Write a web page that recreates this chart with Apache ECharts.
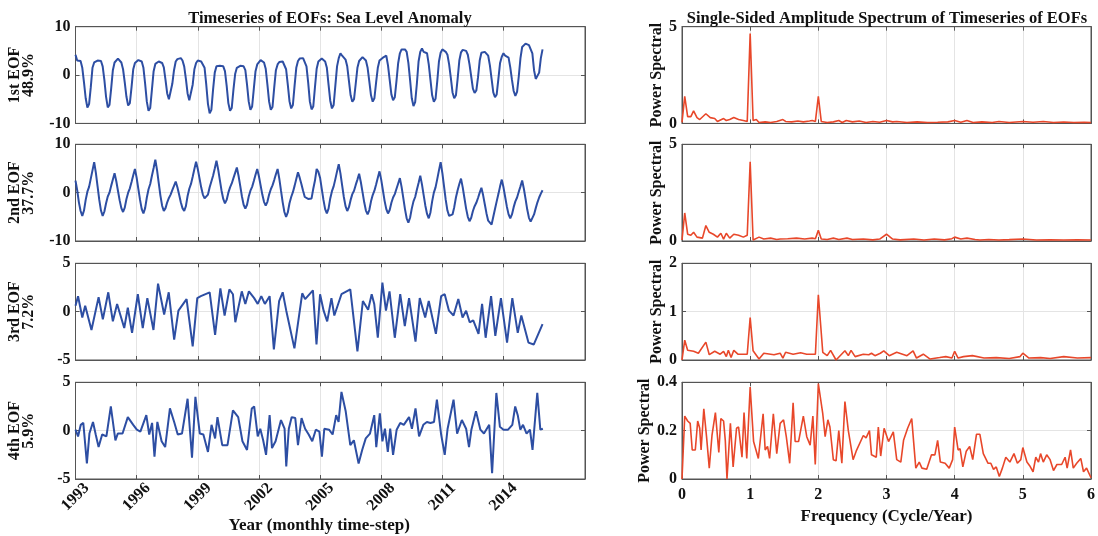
<!DOCTYPE html>
<html><head><meta charset="utf-8">
<script src="https://cdn.jsdelivr.net/npm/echarts@6/dist/echarts.min.js"></script>
<style>html,body{margin:0;padding:0;background:#fff}#c{width:1098px;height:536px}</style>
</head><body><div id="c"></div>
<script>
// ---------- DATA ----------
const tickYears = [1993, 1996, 1999, 2002, 2005, 2008, 2011, 2014];
const eofNames = ['1st EOF\n48.9%', '2nd EOF\n37.7%', '3rd EOF\n7.2%', '4th EOF\n5.9%'];
const leftTitle = 'Timeseries of EOFs: Sea Level Anomaly';
const rightTitle = 'Single-Sided Amplitude Spectrum of Timeseries of EOFs';
const leftXName = 'Year (monthly time-step)';
const rightXName = 'Frequency (Cycle/Year)';
const rightYName = 'Power Spectral';

// EOF1 monthly values, Jan 1993 - Dec 2015
const eof1 = [
 4.2, 3.0, 2.9, 2.9, 1.5, -1.5, -4.8, -6.7, -6.0, -2.5, 1.5, 2.6,
 2.8, 3.0, 3.3, 2.9, 1.8, -1.0, -4.5, -6.7, -6.2, -2.8, 1.0, 2.6,
 3.0, 3.4, 3.2, 2.6, 1.2, -1.5, -4.5, -6.3, -5.8, -2.5, 1.2, 2.5,
 2.9, 3.1, 3.0, 2.8, 1.5, -1.8, -5.5, -7.4, -6.8, -3.0, 0.8, 2.3,
 2.6, 2.8, 2.7, 2.5, 1.6, -1.0, -3.8, -5.0, -4.6, -1.8, 1.0, 2.8,
 3.3, 3.7, 3.5, 3.0, 1.8, -0.8, -3.8, -5.2, -4.9, -2.0, 1.2, 2.5,
 3.0, 3.1, 2.8, 2.5, 1.5, -2.0, -6.0, -7.9, -7.2, -3.0, 0.5, 1.8,
 1.9, 1.9, 1.9, 1.8, 0.8, -2.2, -5.8, -7.4, -6.8, -3.0, 0.2, 1.5,
 1.8, 1.9, 2.0, 1.8, 1.0, -2.0, -5.5, -7.2, -6.5, -2.8, 0.8, 2.2,
 2.6, 3.1, 2.9, 2.6, 1.3, -2.0, -5.5, -7.2, -6.6, -2.6, 1.0, 2.2,
 2.7, 2.9, 2.8, 2.5, 1.2, -2.0, -5.4, -6.9, -6.2, -2.2, 1.5, 2.9,
 3.4, 3.8, 3.5, 3.3, 1.8, -1.5, -5.5, -7.1, -6.5, -2.5, 1.3, 2.8,
 3.2, 3.4, 3.1, 2.8, 1.5, -2.0, -5.3, -6.9, -6.2, -2.2, 1.8, 3.5,
 4.5, 4.0, 3.6, 3.2, 1.8, -1.2, -4.2, -5.5, -5.0, -1.8, 1.5, 2.9,
 3.3, 3.7, 3.5, 3.0, 1.5, -1.3, -4.2, -5.5, -4.8, -1.5, 1.5, 3.0,
 2.8, 3.6, 3.2, 4.0, 2.0, -1.0, -4.0, -5.2, -4.6, -1.2, 2.5, 4.5,
 5.3, 5.2, 5.3, 4.8, 2.5, -1.0, -4.8, -6.4, -5.6, -1.8, 2.8, 4.8,
 5.5, 4.8, 5.2, 4.5, 2.2, -1.0, -4.2, -5.5, -4.9, -1.3, 2.8, 4.6,
 5.3, 5.0, 4.8, 4.2, 2.2, -0.6, -3.6, -4.8, -4.2, -0.8, 3.0, 4.7,
 5.2, 4.9, 5.0, 4.2, 2.2, -0.3, -2.8, -3.7, -3.2, -0.5, 3.0, 4.6,
 5.0, 4.8, 4.6, 4.0, 2.0, -0.8, -3.6, -4.6, -4.0, -0.8, 2.5, 3.8,
 4.5, 4.0, 4.2, 3.6, 1.6, -1.0, -3.3, -4.3, -3.5, -0.3, 3.5, 5.8,
 6.0, 6.5, 6.4, 6.2, 5.8, 4.5, 1.0, -0.8, -1.0, 0.5, 3.5, 5.3
];

// EOF2 monthly values, Jan 1993 - Dec 2015
const eof2 = [
 2.5, 0.5, -2.0, -3.8, -4.8, -3.7, -1.5, 0.2, 1.2, 2.9, 4.6, 6.3,
 4.1, 1.3, -1.5, -3.7, -4.8, -3.9, -2.2, -0.8, 0.0, 1.4, 2.7, 4.0,
 2.4, 0.4, -1.6, -3.2, -4.0, -3.1, -1.3, 0.0, 0.9, 2.2, 3.6, 4.9,
 3.1, 0.8, -1.5, -3.4, -4.3, -3.2, -1.0, 0.7, 1.8, 3.5, 5.1, 6.8,
 4.7, 2.0, -0.6, -2.7, -3.8, -3.2, -2.0, -1.1, -0.4, 0.5, 1.4, 2.3,
 1.1, -0.4, -2.0, -3.2, -3.8, -2.8, -0.7, 0.8, 1.8, 3.3, 4.9, 6.4,
 4.9, 3.0, 1.1, -0.4, -1.2, -1.1, -0.4, 1.1, 2.3, 3.5, 5.0, 6.6,
 4.8, 2.6, 0.4, -1.3, -2.2, -1.5, 0.0, 1.1, 1.9, 3.0, 4.1, 5.2,
 3.5, 1.4, -0.8, -2.5, -3.3, -2.5, -0.8, 0.4, 1.2, 2.4, 3.7, 4.9,
 3.4, 1.5, -0.4, -1.9, -2.7, -1.9, -0.4, 0.7, 1.5, 2.6, 3.8, 4.9,
 2.9, 0.4, -2.0, -4.0, -5.0, -4.1, -2.2, -0.9, 0.1, 1.4, 2.8, 4.2,
 3.1, 1.8, 0.4, -0.9, -1.2, -1.3, -1.1, -1.2, 0.8, 2.5, 4.9, 4.3,
 3.1, 0.8, -1.5, -3.4, -4.3, -3.3, -1.2, 0.3, 1.3, 2.8, 4.4, 5.9,
 4.0, 1.5, -0.9, -2.8, -3.8, -3.0, -1.5, -0.3, 0.4, 1.6, 2.7, 3.9,
 2.2, 0.1, -2.0, -3.7, -4.5, -3.6, -1.8, -0.5, 0.4, 1.7, 3.1, 4.4,
 2.7, 0.5, -1.7, -3.4, -4.3, -3.6, -2.1, -1.0, -0.3, 0.8, 1.9, 3.0,
 1.2, -1.1, -3.4, -5.3, -6.2, -5.2, -3.3, -1.8, -0.9, 0.6, 2.0, 3.5,
 1.7, -0.5, -2.7, -4.4, -5.3, -4.1, -1.8, 0.0, 1.1, 2.8, 4.6, 6.3,
 4.1, 1.3, -1.5, -3.7, -4.8, -4.6, -4.5, -3.0, -1.0, 0.5, 1.8, 2.9,
 1.1, -1.1, -3.3, -5.0, -5.9, -5.2, -3.8, -2.8, -2.1, -1.1, 0.0, 1.0,
 -0.5, -2.4, -4.3, -5.8, -6.2, -6.6, -5.0, -3.4, -1.8, -0.3, 1.3, 2.7,
 1.1, -0.9, -2.9, -4.5, -5.3, -4.5, -3.0, -1.8, -1.0, 0.2, 1.3, 2.5,
 0.8, -1.3, -3.5, -5.2, -6.0, -5.8, -4.5, -3.2, -2.0, -1.0, -0.2, 0.5
];

// EOF3 [month index, value]
const eof3 = [
 [0,0.6],[1.5,1.6],[4,-0.6],[5.7,0.6],[9.4,-1.9],[13.6,1.5],[16.1,-0.8],[19.3,2.0],[22,-1.0],[24.5,0.8],
 [28.7,-1.7],[30.8,0.4],[33.3,-2.2],[36.7,1.8],[39.6,-1.7],[42.3,1.4],[45.9,-1.9],[48.6,2.9],[52.2,-0.3],[54.9,2.0],
 [58.1,-2.9],[60.6,0.1],[65.4,1.3],[69,-3.6],[71.7,1.4],[73.8,1.6],[79,2.0],[82.2,-2.4],[85.3,2.4],[87.8,-0.4],
 [90.6,2.3],[92.7,1.8],[94.1,-1.1],[97.9,2.1],[100,0.8],[102.1,2.1],[105.2,1.4],[107.3,0.8],[109.4,1.6],[111.5,0.8],
 [114.3,1.6],[116.8,-3.9],[119.9,1.1],[122,2.0],[124.1,0.1],[128.9,-3.8],[133.5,1.9],[135.2,1.3],[139.8,2.2],[141.9,-3.4],
 [144,1.8],[146.1,0.1],[148.2,-1.0],[150.7,1.4],[152.4,-0.4],[156.6,1.8],[161.8,2.3],[166,-4.1],[169.2,1.1],[172.3,0.2],
 [174.4,1.8],[175.9,0.8],[178,-2.7],[180.7,3.0],[182.8,0.1],[184.9,2.1],[188,-2.7],[191.2,1.8],[193.9,-1.5],[196.4,1.4],
 [200.2,-3.1],[202.7,1.4],[205.9,-0.6],[208,1.1],[212.2,-2.3],[215.3,1.6],[217.4,1.8],[219.9,0.1],[222.6,-0.4],[225.4,1.3],
 [227.9,-0.6],[230,0.1],[232.1,-1.1],[234.2,-0.9],[237.3,-2.3],[239.4,0.8],[241.5,-2.7],[244.7,1.6],[247.2,-2.5],[250.5,1.4],
 [254.1,-3.2],[257.2,1.4],[260.4,-2.2],[262.5,-0.4],[266.7,-3.2],[269.8,-3.4],[275,-1.3]
];

// EOF4 [month index, value]
const eof4 = [
 [0,0.1],[1.5,-0.6],[3.1,0.6],[4.6,0.8],[6.7,-3.4],[8.2,-0.3],[10.3,0.9],[11.9,-0.4],[13.6,-1.7],[15.7,-0.4],
 [18.2,-0.6],[20.8,2.5],[23.5,-1.0],[24.9,-0.3],[27.7,-0.3],[30.8,1.4],[34,0.6],[36.1,0.1],[38.2,-0.1],[41.7,1.6],
 [43.4,-0.4],[45.1,0.8],[46.5,-2.7],[48.2,0.9],[50.7,-1.1],[52.8,-1.7],[55.6,2.3],[58.1,0.9],[60.2,-0.4],[62.7,-0.3],
 [66,3.3],[68.6,-2.8],[70.6,3.5],[73.2,-0.3],[75.3,-0.4],[78,-2.2],[80.1,0.6],[82.2,-0.8],[83.6,1.4],[86.4,-1.5],
 [89.5,-1.5],[92.7,2.1],[95.8,1.4],[98.3,-1.1],[101,-2.0],[103.8,2.3],[105.2,2.5],[107.3,-0.6],[108.8,0.2],[110.5,-1.0],
 [112.2,-2.5],[114.3,1.6],[115.7,-1.8],[117.8,-1.1],[121,1.1],[123.1,0.2],[124.1,-3.7],[125.6,0.2],[127.3,1.4],[129.4,1.3],
 [131,-1.5],[133.1,1.3],[135.2,0.2],[137.3,-0.4],[139.4,-1.1],[141.5,0.1],[143.6,-0.1],[145.1,-2.7],[146.5,0.2],[149.3,0.1],
 [151.4,-0.4],[153.5,1.6],[154.9,0.9],[156.6,4.0],[159.1,2.0],[161.8,-1.5],[163.9,-1.0],[166.7,-3.4],[168.8,-2.0],[170.9,-0.8],
 [173.4,-0.3],[175.9,1.6],[177.1,-1.7],[179.2,1.8],[180.7,-1.1],[182.2,0.2],[183.9,-2.2],[185.3,0.2],[187,-2.5],[189.1,0.1],
 [191.2,0.8],[193.3,0.6],[196.4,1.4],[198.1,0.2],[200.2,2.3],[202.3,-0.6],[204.8,0.6],[206.9,0.9],[209,0.8],[211.1,0.9],
 [212.8,3.2],[215.3,-0.4],[217.4,-2.5],[219.1,0.2],[222.6,3.2],[224.7,-0.3],[227.5,1.1],[230,0.2],[231.7,-1.7],[233.1,0.1],
 [235.8,2.0],[238.4,0.1],[240.5,-0.3],[243.6,0.6],[245.3,-4.4],[247.8,3.9],[249.9,0.4],[252,0.1],[254.7,0.1],[257.2,0.6],
 [258.9,2.5],[260.4,1.6],[261.9,0.1],[263.5,0.6],[265.6,-0.3],[267.6,0.1],[269.1,-2.0],[271.9,3.9],[273.7,0.1],[275.2,0.2]
];

// Spectra [frequency (cycle/year), amplitude]
const spec1 = [
 [0,0.05],[0.04,1.4],[0.083,0.35],[0.13,0.35],[0.17,0.65],[0.22,0.3],[0.26,0.2],[0.35,0.5],[0.415,0.3],[0.48,0.25],
 [0.52,0.1],[0.61,0.25],[0.65,0.15],[0.7,0.2],[0.76,0.3],[0.83,0.2],[0.9,0.15],[0.957,0.1],[1.0,4.65],[1.043,0.15],
 [1.09,0.2],[1.13,0.05],[1.22,0.08],[1.3,0.05],[1.39,0.1],[1.48,0.2],[1.52,0.1],[1.61,0.08],[1.7,0.12],[1.78,0.08],
 [1.87,0.12],[1.91,0.15],[1.957,0.1],[2.0,1.4],[2.043,0.1],[2.13,0.05],[2.22,0.08],[2.3,0.15],[2.35,0.05],[2.41,0.15],
 [2.5,0.08],[2.6,0.12],[2.7,0.05],[2.8,0.1],[2.9,0.06],[3.0,0.15],[3.09,0.08],[3.15,0.1],[3.3,0.05],[3.45,0.08],
 [3.6,0.05],[3.75,0.06],[3.9,0.08],[4.0,0.15],[4.09,0.06],[4.18,0.15],[4.27,0.05],[4.4,0.08],[4.55,0.05],[4.65,0.1],
 [4.8,0.05],[5.0,0.1],[5.15,0.06],[5.3,0.1],[5.45,0.05],[5.6,0.07],[5.75,0.05],[5.9,0.06],[6.0,0.05]
];
const spec2 = [
 [0,0.05],[0.04,1.45],[0.083,0.35],[0.13,0.3],[0.17,0.45],[0.22,0.2],[0.3,0.15],[0.35,0.8],[0.4,0.45],[0.46,0.35],
 [0.52,0.2],[0.57,0.4],[0.61,0.1],[0.65,0.4],[0.7,0.15],[0.76,0.35],[0.83,0.3],[0.9,0.2],[0.957,0.3],[1.0,4.1],
 [1.043,0.05],[1.13,0.2],[1.2,0.1],[1.3,0.15],[1.39,0.08],[1.44,0.1],[1.55,0.12],[1.68,0.15],[1.8,0.1],[1.91,0.15],
 [1.957,0.12],[2.0,0.55],[2.043,0.1],[2.13,0.08],[2.22,0.15],[2.3,0.08],[2.42,0.15],[2.5,0.08],[2.66,0.1],[2.8,0.06],
 [2.9,0.1],[3.0,0.35],[3.09,0.1],[3.2,0.06],[3.4,0.1],[3.55,0.05],[3.7,0.1],[3.85,0.06],[3.96,0.12],[4.0,0.2],
 [4.09,0.1],[4.18,0.15],[4.3,0.08],[4.37,0.05],[4.5,0.08],[4.65,0.05],[4.8,0.07],[5.0,0.1],[5.2,0.05],[5.4,0.06],
 [5.6,0.05],[5.8,0.06],[6.0,0.05]
];
const spec3 = [
 [0,0.0],[0.04,0.41],[0.083,0.2],[0.17,0.18],[0.24,0.14],[0.35,0.37],[0.4,0.11],[0.48,0.18],[0.56,0.12],[0.61,0.18],
 [0.65,0.07],[0.68,0.2],[0.72,0.05],[0.76,0.2],[0.82,0.12],[0.957,0.12],[1.0,0.88],[1.043,0.19],[1.13,0.02],[1.2,0.14],
 [1.35,0.11],[1.44,0.14],[1.48,0.04],[1.52,0.16],[1.63,0.12],[1.74,0.15],[1.83,0.12],[1.957,0.12],[2.0,1.35],[2.065,0.16],
 [2.13,0.09],[2.18,0.2],[2.26,0.0],[2.39,0.19],[2.44,0.09],[2.48,0.2],[2.54,0.07],[2.66,0.12],[2.74,0.11],[2.78,0.14],
 [2.83,0.09],[2.91,0.14],[2.96,0.19],[3.04,0.09],[3.15,0.16],[3.3,0.09],[3.39,0.19],[3.44,0.04],[3.54,0.12],[3.64,0.02],
 [3.78,0.05],[3.87,0.07],[3.96,0.04],[4.0,0.18],[4.05,0.04],[4.13,0.07],[4.26,0.09],[4.43,0.04],[4.61,0.05],[4.8,0.03],
 [4.96,0.07],[5.0,0.14],[5.09,0.04],[5.26,0.05],[5.4,0.03],[5.6,0.07],[5.8,0.04],[6.0,0.05]
];
const spec4 = [
 [0,0],[0.04,0.26],[0.083,0.24],[0.12,0.23],[0.15,0.12],[0.195,0.12],[0.23,0.24],[0.26,0.21],[0.28,0.12],[0.32,0.29],
 [0.36,0.175],[0.4,0.045],[0.44,0.18],[0.49,0.275],[0.54,0.11],[0.57,0.25],[0.61,0.24],[0.635,0.16],[0.66,0.0],[0.71,0.23],
 [0.75,0.05],[0.8,0.21],[0.83,0.215],[0.88,0.09],[0.91,0.275],[0.95,0.085],[1.0,0.38],[1.05,0.155],[1.12,0.085],[1.19,0.27],
 [1.22,0.12],[1.255,0.135],[1.285,0.085],[1.34,0.27],[1.39,0.105],[1.44,0.23],[1.49,0.245],[1.53,0.175],[1.58,0.065],[1.63,0.315],
 [1.66,0.155],[1.71,0.155],[1.78,0.26],[1.83,0.175],[1.88,0.14],[1.92,0.26],[1.955,0.06],[2.0,0.395],[2.065,0.27],[2.1,0.175],
 [2.14,0.245],[2.17,0.215],[2.22,0.08],[2.26,0.075],[2.3,0.2],[2.345,0.065],[2.39,0.32],[2.44,0.2],[2.51,0.08],[2.555,0.115],
 [2.66,0.18],[2.7,0.17],[2.75,0.2],[2.78,0.1],[2.85,0.09],[2.88,0.215],[2.915,0.095],[2.965,0.21],[3.03,0.155],[3.1,0.195],
 [3.15,0.08],[3.21,0.07],[3.25,0.16],[3.31,0.21],[3.37,0.25],[3.43,0.045],[3.48,0.07],[3.52,0.045],[3.59,0.04],[3.66,0.1],
 [3.71,0.1],[3.75,0.16],[3.79,0.07],[3.86,0.065],[3.92,0.045],[3.97,0.08],[4.0,0.215],[4.05,0.12],[4.08,0.125],[4.12,0.05],
 [4.17,0.115],[4.22,0.135],[4.265,0.08],[4.32,0.185],[4.37,0.185],[4.42,0.105],[4.49,0.065],[4.53,0.065],[4.57,0.04],[4.61,0.05],
 [4.655,0.01],[4.7,0.045],[4.75,0.09],[4.81,0.07],[4.87,0.105],[4.92,0.065],[4.97,0.08],[5.0,0.13],[5.06,0.07],[5.1,0.055],
 [5.15,0.03],[5.19,0.09],[5.23,0.07],[5.26,0.105],[5.3,0.07],[5.35,0.1],[5.4,0.08],[5.45,0.035],[5.5,0.06],[5.57,0.06],
 [5.62,0.09],[5.65,0.045],[5.7,0.12],[5.74,0.045],[5.79,0.065],[5.85,0.085],[5.89,0.03],[5.935,0.045],[6.0,0.005]
];

const leftYRange = [[-10, 10, 10], [-10, 10, 10], [-5, 5, 5], [-5, 5, 5]];
const rightYRange = [[0, 5, 5], [0, 5, 5], [0, 2, 1], [0, 0.4, 0.2]];

// ---------- CHART ----------
const FONT = 'Liberation Serif';
const TXT = '#111';
const FRAME = '#555';
const GRIDC = '#e4e4e4';
const BLUE = '#2d4ea3';
const RED = '#e8472a';
const tops = [26.7, 144.3, 263.3, 382.3];
const H = 96.7;
const tickMonths = tickYears.map(y => (y - tickYears[0]) * 12);
const leftSeries = [eof1.map((v, i) => [i, v]), eof2.map((v, i) => [i, v]), eof3, eof4];
const specs = [spec1, spec2, spec3, spec4];

const grid = [], xAxis = [], yAxis = [], series = [];
const lblStyle = { fontFamily: FONT, fontWeight: 'bold', fontSize: 16, color: TXT };
const nameStyle = { fontFamily: FONT, fontWeight: 'bold', fontSize: 16, color: TXT };
const tickStyle = { inside: true, length: 4, lineStyle: { color: FRAME } };

function mirrorX(gi, base) {
  return Object.assign({}, base, { gridIndex: gi, position: 'top', name: '',
    axisLabel: { show: false }, splitLine: { show: false } });
}
function mirrorY(gi, base) {
  return Object.assign({}, base, { gridIndex: gi, position: 'right', name: '',
    axisLabel: { show: false }, splitLine: { show: false } });
}

for (let i = 0; i < 4; i++) {
  const last = i === 3;
  // ---- left panel ----
  const gL = 2 * i;
  grid.push({ left: 75.5, width: 509.5, top: tops[i], height: H, show: true, borderColor: FRAME, borderWidth: 1 });
  const xl = {
    gridIndex: gL, type: 'value', min: 0, max: 300,
    axisLine: { onZero: false, lineStyle: { color: FRAME } },
    axisTick: Object.assign({ customValues: tickMonths }, tickStyle),
    splitLine: { show: true, lineStyle: { color: GRIDC } },
    axisLabel: { show: last, customValues: tickMonths, rotate: 45, margin: 18,
      align: 'center', verticalAlign: 'middle',
      formatter: v => String(tickYears[0] + v / 12), ...lblStyle },
    name: last ? leftXName : '', nameLocation: 'middle', nameGap: 34,
    nameTextStyle: { ...nameStyle, fontSize: 17, padding: [0, 22, 0, 0] }
  };
  xAxis.push(xl);
  const yl = {
    gridIndex: gL, type: 'value', min: leftYRange[i][0], max: leftYRange[i][1], interval: leftYRange[i][2],
    axisLine: { onZero: false, lineStyle: { color: FRAME } },
    axisTick: tickStyle,
    splitLine: { show: true, lineStyle: { color: GRIDC } },
    axisLabel: { margin: 5, ...lblStyle },
    name: eofNames[i], nameLocation: 'middle', nameRotate: 90, nameGap: 40,
    nameTextStyle: { ...nameStyle, lineHeight: 13.5 }
  };
  yAxis.push(yl);
  series.push({ type: 'line', xAxisIndex: xAxis.length - 1, yAxisIndex: yAxis.length - 1, data: leftSeries[i],
    showSymbol: false, symbol: 'none', lineStyle: { color: BLUE, width: 2 }, animation: false });
  xAxis.push(mirrorX(gL, xl));
  yAxis.push(mirrorY(gL, yl));

  // ---- right panel ----
  const gR = 2 * i + 1;
  grid.push({ left: 682, width: 409, top: tops[i], height: H, show: true, borderColor: FRAME, borderWidth: 1 });
  const xr = {
    gridIndex: gR, type: 'value', min: 0, max: 6, interval: 1,
    axisLine: { onZero: false, lineStyle: { color: FRAME } },
    axisTick: tickStyle,
    splitLine: { show: true, lineStyle: { color: GRIDC } },
    axisLabel: { show: last, margin: 8, ...lblStyle },
    name: last ? rightXName : '', nameLocation: 'middle', nameGap: 29,
    nameTextStyle: { ...nameStyle, fontSize: 17 }
  };
  xAxis.push(xr);
  const yr = {
    gridIndex: gR, type: 'value', min: rightYRange[i][0], max: rightYRange[i][1], interval: rightYRange[i][2],
    axisLine: { onZero: false, lineStyle: { color: FRAME } },
    axisTick: tickStyle,
    splitLine: { show: true, lineStyle: { color: GRIDC } },
    axisLabel: { margin: 5, ...lblStyle },
    name: rightYName, nameLocation: 'middle', nameRotate: 90, nameGap: i === 3 ? 29 : 17,
    nameTextStyle: { ...nameStyle }
  };
  yAxis.push(yr);
  series.push({ type: 'line', xAxisIndex: xAxis.length - 1, yAxisIndex: yAxis.length - 1, data: specs[i],
    showSymbol: false, symbol: 'none', lineStyle: { color: RED, width: 1.6 }, animation: false });
  xAxis.push(mirrorX(gR, xr));
  yAxis.push(mirrorY(gR, yr));
}

const chart = echarts.init(document.getElementById('c'), null, { renderer: 'canvas' });
chart.setOption({
  animation: false,
  backgroundColor: '#fff',
  title: [
    { text: leftTitle, left: 330, top: 10, padding: 0, textAlign: 'center',
      textStyle: { fontFamily: FONT, fontWeight: 'bold', fontSize: 16.5, color: TXT } },
    { text: rightTitle, left: 887, top: 10, padding: 0, textAlign: 'center',
      textStyle: { fontFamily: FONT, fontWeight: 'bold', fontSize: 16.5, color: TXT } }
  ],
  grid, xAxis, yAxis, series
});
</script>
</body></html>
